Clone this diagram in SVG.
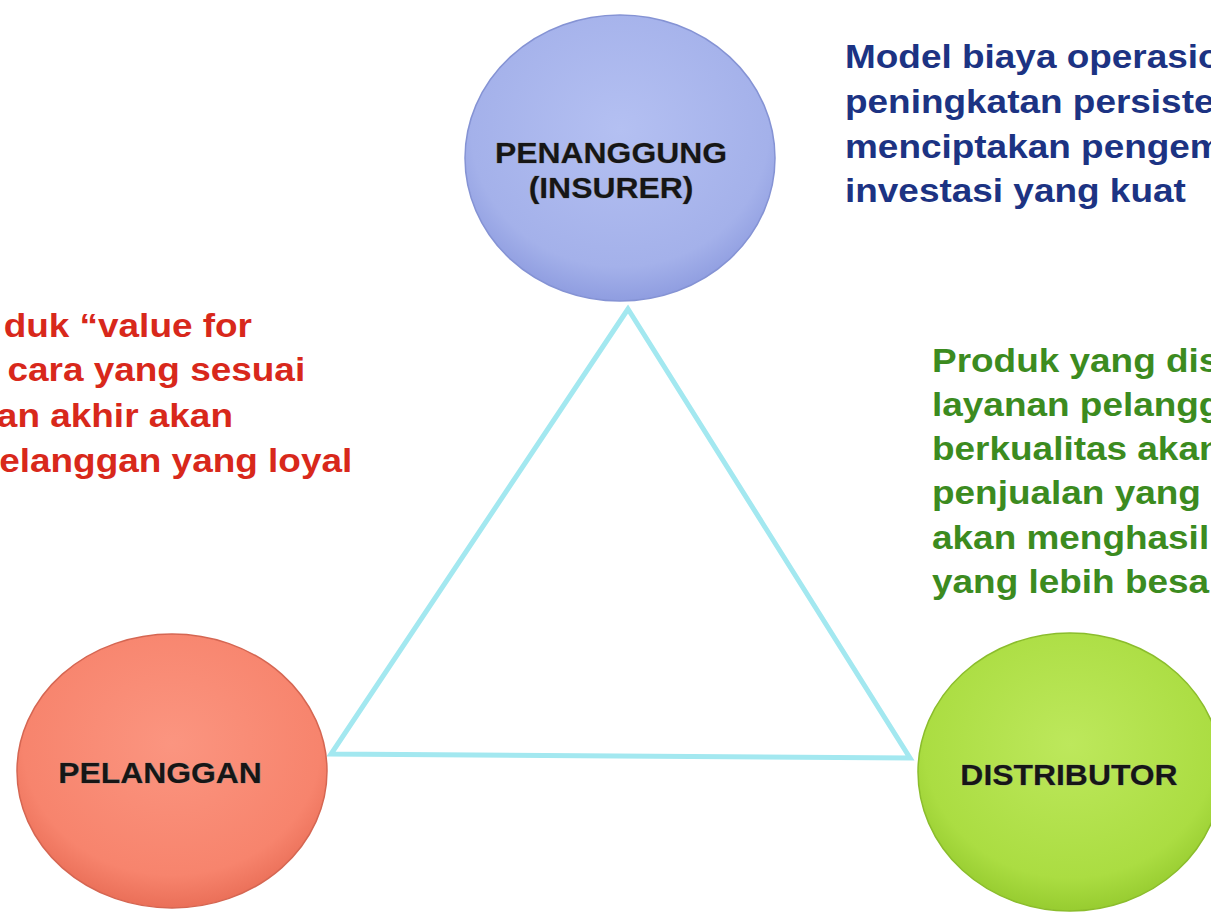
<svg xmlns="http://www.w3.org/2000/svg" width="1211" height="913" viewBox="0 0 1211 913">
<defs>
<radialGradient id="gBlue" cx="50%" cy="40%" r="60%">
<stop offset="0" stop-color="#b4c0f2"/>
<stop offset="0.8" stop-color="#a4b1ea"/>
<stop offset="1" stop-color="#8f9de0"/>
</radialGradient>
<radialGradient id="gRed" cx="50%" cy="40%" r="60%">
<stop offset="0" stop-color="#fb9580"/>
<stop offset="0.8" stop-color="#f7846d"/>
<stop offset="1" stop-color="#ea6f58"/>
</radialGradient>
<radialGradient id="gGreen" cx="50%" cy="40%" r="60%">
<stop offset="0" stop-color="#bde85c"/>
<stop offset="0.8" stop-color="#abdd42"/>
<stop offset="1" stop-color="#97cc30"/>
</radialGradient>
<style>
.lbl{font-family:"Liberation Sans",Arial,sans-serif;font-weight:bold;font-size:29px;fill:#161616;text-anchor:middle;stroke:#8a8a8a;stroke-width:0.5px;paint-order:stroke}
.para{font-family:"Liberation Sans",Arial,sans-serif;font-weight:bold;font-size:33px}
.blue{fill:#1c3383}
.red{fill:#d8281b}
.green{fill:#3c8b1f}
.tri{fill:none;stroke:#a3e8f0;stroke-width:5;stroke-linejoin:miter}
</style>
</defs>
<rect width="1211" height="913" fill="#ffffff"/>

<g id="connectors">
<polygon class="tri" points="628,309 331,754 910,758"/>
</g>

<g id="node-insurer">
<ellipse cx="620" cy="158" rx="155" ry="143" fill="url(#gBlue)" stroke="#8593d4" stroke-width="1.5"/>
<text class="lbl" transform="translate(611,163) scale(1.1,1)">PENANGGUNG</text>
<text class="lbl" transform="translate(611,198) scale(1.1,1)">(INSURER)</text>
</g>

<g id="node-pelanggan">
<ellipse cx="172" cy="771" rx="155" ry="137" fill="url(#gRed)" stroke="#d56652" stroke-width="1.5"/>
<text class="lbl" transform="translate(160,783) scale(1.1,1)">PELANGGAN</text>
</g>

<g id="node-distributor">
<ellipse cx="1070" cy="772" rx="152" ry="139" fill="url(#gGreen)" stroke="#8bbd2c" stroke-width="1.5"/>
<text class="lbl" transform="translate(1069,785) scale(1.1,1)">DISTRIBUTOR</text>
</g>

<g id="text-insurer" class="para blue" transform="translate(845,0) scale(1.12,1)">
<text x="0" y="68">Model biaya operasio</text>
<text x="0" y="113">peningkatan persiste</text>
<text x="0" y="158">menciptakan pengem</text>
<text x="0" y="202">investasi yang kuat</text>
</g>

<g id="text-pelanggan" class="para red" transform="scale(1.12,1)" text-anchor="end">
<text x="225" y="337">duk “value for</text>
<text x="272.5" y="381">cara yang sesuai</text>
<text x="208" y="427">an akhir akan</text>
<text x="314.5" y="472">elanggan yang loyal</text>
</g>

<g id="text-distributor" class="para green" transform="translate(932,0) scale(1.12,1)">
<text x="0" y="372">Produk yang dis</text>
<text x="0" y="416">layanan pelangg</text>
<text x="0" y="460">berkualitas akan</text>
<text x="0" y="504">penjualan yang</text>
<text x="0" y="549">akan menghasil</text>
<text x="0" y="593">yang lebih besa</text>
</g>
</svg>
